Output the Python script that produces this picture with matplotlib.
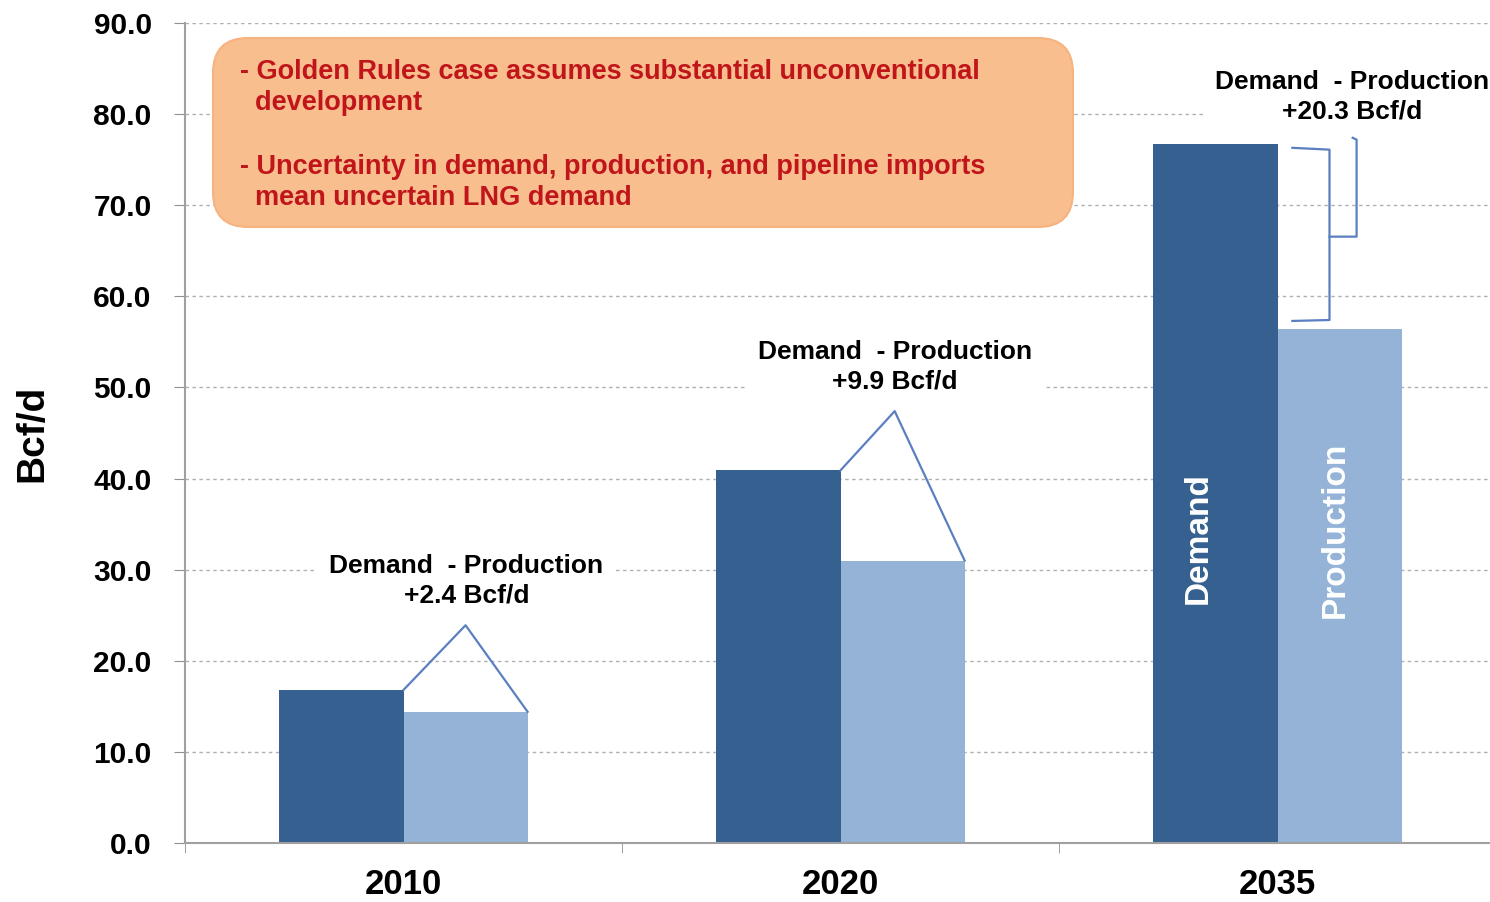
""" Natural gas demand vs production, Golden Rules case. """

import matplotlib.pyplot as plt
from matplotlib.patches import FancyBboxPatch

plt.rcParams["font.family"] = ["Liberation Sans", "DejaVu Sans"]
plt.rcParams["font.weight"] = "bold"

years = ["2010", "2020", "2035"]
demand = [16.8, 40.9, 76.7]
production = [14.4, 31.0, 56.4]
gap_labels = ["+2.4 Bcf/d", "+9.9 Bcf/d", "+20.3 Bcf/d"]
y_ticks = [0, 10, 20, 30, 40, 50, 60, 70, 80, 90]

note_lines = [
    "- Golden Rules case assumes substantial unconventional",
    "  development",
    "- Uncertainty in demand, production, and pipeline imports",
    "  mean uncertain LNG demand",
]

dark = "#35608F"
light = "#95B3D7"
line_blue = "#5B7FC0"
note_red = "#C0151B"

W, H = 1490, 902
fig = plt.figure(figsize=(W / 100, H / 100), dpi=100)
ax = fig.add_axes([185 / W, 59 / H, 1311 / W, 820 / H])

bw = 0.284
xs = list(range(len(years)))
ax.bar([x - bw / 2 for x in xs], demand, width=bw, color=dark, zorder=2)
ax.bar([x + bw / 2 for x in xs], production, width=bw, color=light, zorder=2)

ax.set_xlim(-0.5, 2.5)
ax.set_ylim(0, 90)
ax.set_yticks(y_ticks)
ax.set_yticklabels([f"{v:.1f}" for v in y_ticks], fontsize=21.5, fontweight="bold")
ax.set_xticks(xs)
ax.set_xticklabels(years, fontsize=25, fontweight="bold")
ax.set_xticks([-0.5, 0.5, 1.5], minor=True)
ax.tick_params(axis="x", which="major", length=0, pad=18)
ax.tick_params(axis="x", which="minor", length=7, color="#909090")
ax.tick_params(axis="y", length=8, pad=16, color="#909090")

ax.set_axisbelow(True)
ax.yaxis.grid(True, linestyle=(0, (2.5, 2.5)), color="#B0B0B0", lw=1)
for s in ["top", "right"]:
    ax.spines[s].set_visible(False)
ax.spines["left"].set_color("#A0A0A0")
ax.spines["bottom"].set_color("#A0A0A0")
ax.spines["left"].set_linewidth(1.5)
ax.spines["bottom"].set_linewidth(1.5)

fig.text(32 / W, 1 - 433 / H, "Bcf/d", rotation=90, fontsize=28,
         fontweight="bold", ha="center", va="center")

# gap callouts: peaked outline for 2010 and 2020
peaks = [(0.142, 7.1), (1.124, 6.5)]
for i, (px, rise) in enumerate(peaks):
    ax.plot([i, px, i + bw], [demand[i], demand[i] + rise, production[i]],
            color=line_blue, lw=1.6, zorder=3)

# bracket for 2035
x0 = 2
ax.plot([x0 + 0.034, x0 + 0.119, x0 + 0.119, x0 + 0.034],
        [demand[2] - 0.4, demand[2] - 0.6, production[2] + 1.0, production[2] + 0.9],
        color=line_blue, lw=1.6, zorder=3)
mid = (demand[2] + production[2]) / 2
ax.plot([x0 + 0.119, x0 + 0.181, x0 + 0.181, x0 + 0.172],
        [mid, mid, demand[2] + 0.5, demand[2] + 0.7],
        color=line_blue, lw=1.6, zorder=3)

label_pos = [(0.144, 28.8), (1.124, 52.3), (2.17, 81.9)]
for (lx, ly), g in zip(label_pos, gap_labels):
    ax.text(lx, ly, "Demand  - Production\n" + g, ha="center", va="center",
            fontsize=19, fontweight="bold", linespacing=1.3, zorder=4,
            bbox=dict(boxstyle="square,pad=0.45", fc="white", ec="none"))

# labels inside the 2035 bars
ax.text(2 - bw / 2 - 0.04, 33.5, "Demand", rotation=90, color="white",
        fontsize=24, fontweight="bold", ha="center", va="center", zorder=4)
ax.text(2 + bw / 2 - 0.01, 34.4, "Production", rotation=90, color="white",
        fontsize=24, fontweight="bold", ha="center", va="center", zorder=4)

# note box
box = FancyBboxPatch((2.13, 6.75), 8.60, 1.89,
                     boxstyle="round,pad=0,rounding_size=0.35",
                     transform=fig.dpi_scale_trans, fc="#F9BE8E",
                     ec="#F6B37F", lw=1.5, zorder=5)
fig.patches.append(box)
line_y = [72, 103, 167, 198]
for txt, yy in zip(note_lines, line_y):
    fig.text(240 / W, 1 - yy / H, txt, fontsize=19.5, fontweight="bold",
             color=note_red, ha="left", va="center", zorder=6)

fig.savefig("out.png", dpi=100)
